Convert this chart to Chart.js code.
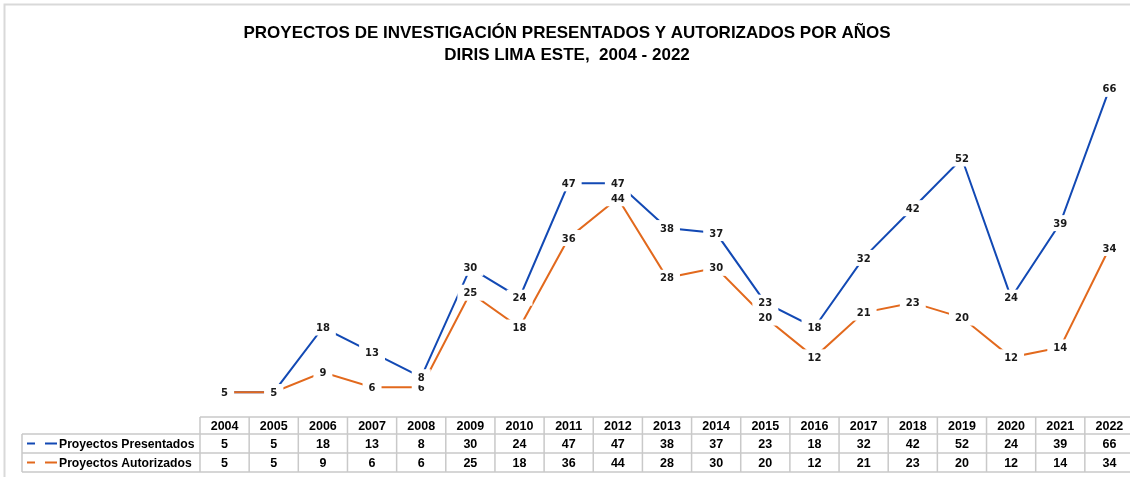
<!DOCTYPE html>
<html>
<head>
<meta charset="utf-8">
<script src="https://cdn.jsdelivr.net/npm/chart.js@4.4.1/dist/chart.umd.min.js"></script>
<style>
  html, body { margin: 0; padding: 0; background: #fff; overflow: hidden; }
  #wrap { width: 1134px; height: 477px; }
</style>
</head>
<body>
<div id="wrap"><canvas id="grafico" width="1134" height="477"></canvas></div>
<script>
// datos del gráfico
const anos = ['2004','2005','2006','2007','2008','2009','2010','2011','2012','2013','2014','2015','2016','2017','2018','2019','2020','2021','2022'];
const presentados = [5, 5, 18, 13, 8, 30, 24, 47, 47, 38, 37, 23, 18, 32, 42, 52, 24, 39, 66];
const autorizados = [5, 5, 9, 6, 6, 25, 18, 36, 44, 28, 30, 20, 12, 21, 23, 20, 12, 14, 34];

const nombresSeries = ['Proyectos Presentados', 'Proyectos Autorizados'];
const coloresSeries = ['#1249b4', '#e2691d'];

const titulo1 = 'PROYECTOS DE INVESTIGACIÓN PRESENTADOS Y AUTORIZADOS POR AÑOS';
const titulo2 = 'DIRIS LIMA ESTE,  2004 - 2022';

const colorGrilla = '#c9c9c9';

// marco, título, etiquetas y tabla de datos
const pluginTabla = {
    id: 'tablaDatos',
    beforeDraw(chart) {
        const ctx = chart.ctx;
        ctx.save();
        ctx.fillStyle = '#fff';
        ctx.fillRect(0, 0, chart.width, chart.height);
        ctx.strokeStyle = '#d9d9d9';
        ctx.lineWidth = 2;
        ctx.strokeRect(4.5, 4.5, chart.width + 20, chart.height + 20);
        ctx.restore();
    },
    afterDatasetsDraw(chart) {
        const ctx = chart.ctx;
        const xs = chart.scales.x;
        const area = chart.chartArea;
        ctx.save();

        // etiquetas de valores con fondo blanco
        ctx.font = 'bold 10px "DejaVu Sans"';
        ctx.textAlign = 'center';
        ctx.textBaseline = 'middle';
        [1, 0].forEach(d => {
            const meta = chart.getDatasetMeta(d);
            meta.data.forEach((pt, i) => {
                const txt = String(chart.data.datasets[d].data[i]);
                const w = ctx.measureText(txt).width;
                ctx.fillStyle = '#fff';
                ctx.fillRect(pt.x - w / 2 - 6, pt.y - 8, w + 12, 16);
                ctx.fillStyle = '#1a1a1a';
                ctx.fillText(txt, pt.x, pt.y + 1);
            });
        });

        // título
        ctx.fillStyle = '#000';
        ctx.font = 'bold 17px "Liberation Sans"';
        ctx.fillText(titulo1, 567, 33);
        ctx.fillText(titulo2, 567, 55);

        // tabla
        const colW = xs.getPixelForValue(1) - xs.getPixelForValue(0);
        const x0 = area.left;
        const x1 = area.left + colW * anos.length;
        const yTop = area.bottom;
        const filas = [yTop, 434, 453, 472];
        const izq = 22;

        ctx.strokeStyle = colorGrilla;
        ctx.lineWidth = 1.5;
        ctx.beginPath();
        ctx.moveTo(x0, filas[0]); ctx.lineTo(x1, filas[0]);
        for (let r = 1; r < filas.length; r++) {
            ctx.moveTo(izq, filas[r]); ctx.lineTo(x1, filas[r]);
        }
        ctx.moveTo(izq, filas[1]); ctx.lineTo(izq, filas[3]);
        for (let c = 0; c <= anos.length; c++) {
            const x = x0 + c * colW;
            ctx.moveTo(x, filas[0]); ctx.lineTo(x, filas[3]);
        }
        ctx.stroke();

        ctx.fillStyle = '#000';
        ctx.font = 'bold 12.5px "Liberation Sans"';
        ctx.textAlign = 'center';
        anos.forEach((a, i) => {
            const cx = xs.getPixelForValue(i);
            ctx.fillText(a, cx, (filas[0] + filas[1]) / 2 + 1);
            ctx.fillText(String(presentados[i]), cx, (filas[1] + filas[2]) / 2 + 1);
            ctx.fillText(String(autorizados[i]), cx, (filas[2] + filas[3]) / 2 + 1);
        });

        // leyenda de filas
        ctx.textAlign = 'left';
        ctx.font = 'bold 12.2px "Liberation Sans"';
        nombresSeries.forEach((n, k) => {
            const yc = (filas[k + 1] + filas[k + 2]) / 2;
            ctx.strokeStyle = coloresSeries[k];
            ctx.lineWidth = 2;
            ctx.beginPath();
            ctx.moveTo(27, yc); ctx.lineTo(35, yc);
            ctx.moveTo(45, yc); ctx.lineTo(57, yc);
            ctx.stroke();
            ctx.fillStyle = '#000';
            ctx.fillText(n, 59, yc + 1);
        });

        ctx.restore();
    }
};

const graficoEl = document.getElementById('grafico');

const grafico = new Chart(graficoEl, {
    type: 'line',
    data: {
        labels: anos,
        datasets: [
            {
                label: nombresSeries[0],
                data: presentados,
                borderColor: coloresSeries[0],
                borderWidth: 2,
                pointRadius: 0,
                tension: 0,
                order: 1
            },
            {
                label: nombresSeries[1],
                data: autorizados,
                borderColor: coloresSeries[1],
                borderWidth: 2,
                pointRadius: 0,
                tension: 0,
                order: 0
            }
        ]
    },
    options: {
        responsive: false,
        animation: false,
        devicePixelRatio: 1,
        layout: {
            padding: { left: 200, right: 0, top: 69, bottom: 60 }
        },
        scales: {
            x: { display: false, offset: true },
            y: { display: false, min: 0, max: 70 }
        },
        plugins: {
            legend: { display: false },
            title: { display: false },
            tooltip: { enabled: false }
        }
    },
    plugins: [pluginTabla]
});
</script>
</body>
</html>
